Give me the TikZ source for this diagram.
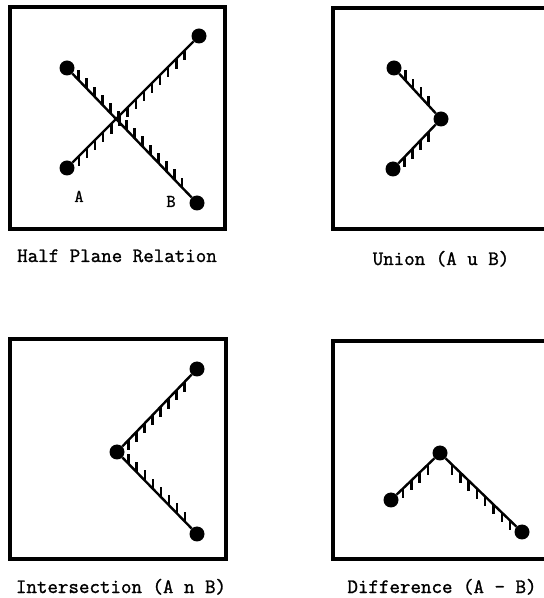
\documentclass[tikz,border=0pt]{standalone}
\usepackage{fontspec}
\setmonofont{Latin Modern Mono}[AutoFakeBold=1.3]
\usepackage{tikz}
\usetikzlibrary{decorations.markings}

\tikzset{
  dot/.style={circle, fill, inner sep=0pt, minimum size=15pt},
  panel/.style={line width=3.5pt},
  hatchdown/.style={line width=2.4pt, postaction={decorate, decoration={markings,
      mark=between positions 9pt and -4pt step 11.5pt with
      {\pgftransformresetnontranslations \draw[line width=2.4pt] (0,0) -- (0,-10pt);}}}},
  hatchup/.style={line width=2.4pt, postaction={decorate, decoration={markings,
      mark=between positions 9pt and -4pt step 11.5pt with
      {\pgftransformresetnontranslations \draw[line width=2.4pt] (0,0) -- (0,10pt);}}}},
  capt/.style={anchor=base, font=\fontsize{20.4}{24}\selectfont\ttfamily\bfseries},
  letter/.style={anchor=base, font=\fontsize{18}{20}\selectfont\ttfamily\bfseries},
}

\begin{document}
\begin{tikzpicture}[x=1pt,y=1pt]
        \useasboundingbox (0,0) rectangle (544,598);

        % Frames
        \draw[panel] (10,591) rectangle (225,369);
        \draw[panel] (560,590) -- (333,590) -- (333,369) -- (560,369);
        \draw[panel] (10,259) rectangle (226,39);
        \draw[panel] (560,257) -- (333,257) -- (333,39) -- (560,39);

        % Half plane relation
        \node (a1) [dot] at (67,430) {};
        \node (a2) [dot] at (199,562) {};
        \node (b1) [dot] at (67,530) {};
        \node (b2) [dot] at (197,395) {};
        \draw[hatchdown] (a1) -- (a2);
        \draw[hatchup] (b1) -- (b2);
        \node (la) [letter] at (79,396) {A};
        \node (lb) [letter] at (171,391) {B};
        \node (c1) [capt] at (117,336) {Half Plane Relation};

        % Union
        \node (u1) [dot] at (394,530) {};
        \node (uv) [dot] at (441,479) {};
        \node (u2) [dot] at (393,429) {};
        \draw[hatchup] (u1) -- (uv);
        \draw[hatchdown] (u2) -- (uv);
        \node (c2) [capt] at (441,333) {Union (A u B)};

        % Intersection
        \node (iv) [dot] at (117,146) {};
        \node (i1) [dot] at (197,229) {};
        \node (i2) [dot] at (197,64) {};
        \draw[hatchdown] (iv) -- (i1);
        \draw[hatchup] (iv) -- (i2);
        \node (c3) [capt] at (121,5) {Intersection (A n B)};

        % Difference
        \node (d1) [dot] at (391,98) {};
        \node (dv) [dot] at (440,145) {};
        \node (d2) [dot] at (522,66) {};
        \draw[hatchdown] (d1) -- (dv);
        \draw[hatchdown] (dv) -- (d2);
        \node (c4) [capt] at (442,5) {Difference (A - B)};

    \end{tikzpicture}
\end{document}
